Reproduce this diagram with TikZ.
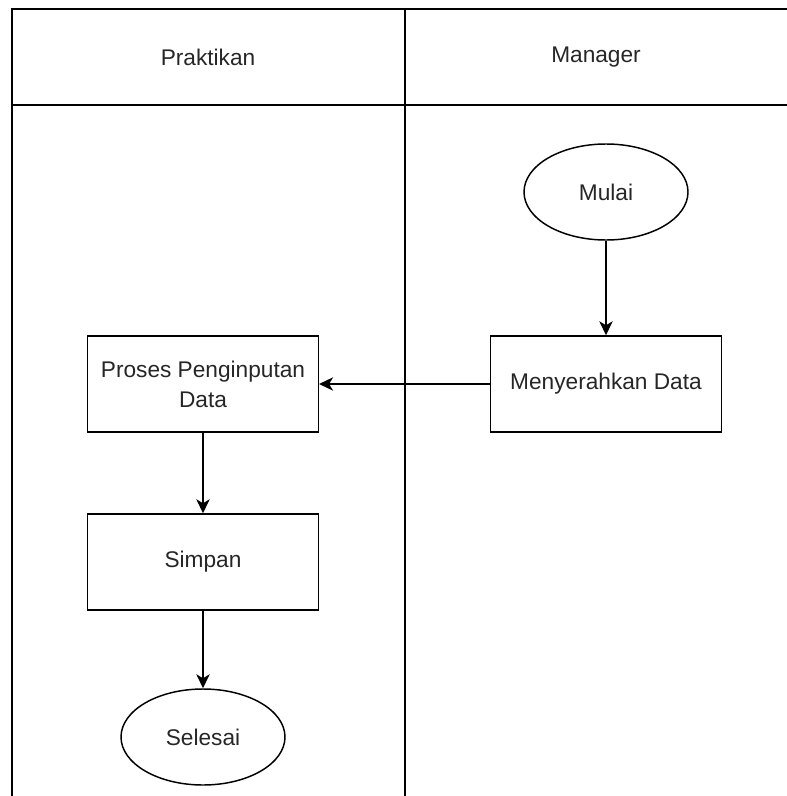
\documentclass[tikz,border=0pt]{standalone}
\usepackage{fontspec}
\setmainfont{Liberation Sans}
\usetikzlibrary{arrows.meta,shapes.geometric}

\begin{document}
\begin{tikzpicture}[x=0.75pt,y=-0.75pt,
    txt/.style={font=\fontsize{17}{22.5}\selectfont,text=black!85},
    proc/.style={txt,draw,line width=1.1pt,minimum width=173pt,minimum height=72pt,inner sep=0pt,align=center},
    term/.style={txt,draw,ellipse,line width=1.1pt,minimum width=123pt,minimum height=72pt,inner sep=0pt},
    flow/.style={line width=1.1pt,-{Stealth[length=10.5pt,width=10pt,inset=3pt]}}]
    \useasboundingbox (0,0) rectangle (787,796);
    % pool frame and lanes
    \draw[line width=1.5pt] (787,9) -- (12,9) -- (12,796);
    \draw[line width=1.1pt] (12,105) -- (787,105);
    \draw[line width=1.1pt] (405,9) -- (405,796);
    \node[txt] (hprak) at (208,57) {Praktikan};
    \node[txt] (hman) at (596,57) {Manager};
    % manager lane
    \node[term] (mulai) at (606,192) {Mulai};
    \node[proc] (serah) at (606,384) {Menyerahkan Data};
    % praktikan lane
    \node[proc] (input) at (203,384) {Proses Penginputan\\Data};
    \node[proc] (simpan) at (203,562) {Simpan};
    \node[term] (selesai) at (203,737) {Selesai};
    % flow
    \draw[flow] (mulai) -- (serah);
    \draw[flow] (serah) -- (input);
    \draw[flow] (input) -- (simpan);
    \draw[flow] (simpan) -- (selesai);
\end{tikzpicture}
\end{document}
